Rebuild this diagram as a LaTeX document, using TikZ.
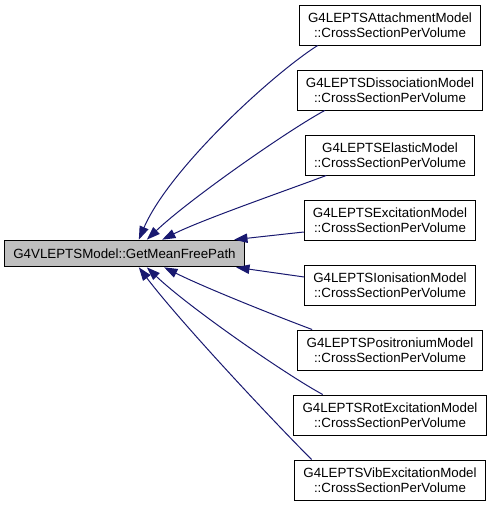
\documentclass[tikz,border=0pt]{standalone}
\usepackage{fontspec}
\setmainfont{Liberation Sans}
\usetikzlibrary{arrows.meta, positioning}
\definecolor{edgeblue}{HTML}{191970}
\definecolor{nodegray}{HTML}{BFBFBF}

\begin{document}
\begin{tikzpicture}[
    x=0.75pt, y=0.75pt,
    node distance=18pt,
    fn/.style={draw=black, line width=0.75pt, align=center, inner xsep=6.5pt, inner ysep=1pt, font=\fontsize{10}{11.5}\selectfont},
    caller/.style={fn, fill=white, minimum height=30pt},
    callee/.style={fn, fill=nodegray, minimum height=20pt},
    edge/.style={draw=edgeblue, line width=0.75pt, -{Triangle[length=10pt, width=7pt]}}
]
    \useasboundingbox (0,0) rectangle (493,-508);

    % Funzione chiamata
    \node[callee] (meanfree) at (124.5,-253.5) {G4VLEPTSModel::GetMeanFreePath};

    % Colonna dei chiamanti
    \node[caller] (attach) at (390,-25) {G4LEPTSAttachmentModel\\::CrossSectionPerVolume};
    \node[caller, below=of attach] (dissoc) {G4LEPTSDissociationModel\\::CrossSectionPerVolume};
    \node[caller, below=of dissoc] (elastic) {G4LEPTSElasticModel\\::CrossSectionPerVolume};
    \node[caller, below=of elastic] (excit) {G4LEPTSExcitationModel\\::CrossSectionPerVolume};
    \node[caller, below=of excit] (ionis) {G4LEPTSIonisationModel\\::CrossSectionPerVolume};
    \node[caller, below=of ionis] (posit) {G4LEPTSPositroniumModel\\::CrossSectionPerVolume};
    \node[caller, below=of posit] (rotex) {G4LEPTSRotExcitationModel\\::CrossSectionPerVolume};
    \node[caller, below=of rotex] (vibex) {G4LEPTSVibExcitationModel\\::CrossSectionPerVolume};

    % Archi verso la funzione chiamata
    \draw[edge] ([xshift=14pt]attach.south west) .. controls +(-47,-30) and +(30,70) .. ([xshift=101pt]meanfree.north west);
    \draw[edge] ([xshift=21pt]dissoc.south west) .. controls +(-37,-20) and +(42,40) .. ([xshift=107pt]meanfree.north west);
    \draw[edge] ([xshift=16pt]elastic.south west) .. controls +(-40,-15) and +(40,20) .. ([xshift=118.5pt]meanfree.north west);
    \draw[edge] ([yshift=-9pt]excit.west) -- ([xshift=172.5pt]meanfree.north west);
    \draw[edge] ([yshift=6pt]ionis.west) -- ([xshift=174pt]meanfree.south west);
    \draw[edge] ([xshift=11pt]posit.north west) .. controls +(-40,15) and +(40,-20) .. ([xshift=120pt]meanfree.south west);
    \draw[edge] ([xshift=22pt]rotex.north west) .. controls +(-37,20) and +(42,-40) .. ([xshift=107pt]meanfree.south west);
    \draw[edge] ([xshift=13pt]vibex.north west) .. controls +(-40,40) and +(40,-53) .. ([xshift=101pt]meanfree.south west);
\end{tikzpicture}
\end{document}
